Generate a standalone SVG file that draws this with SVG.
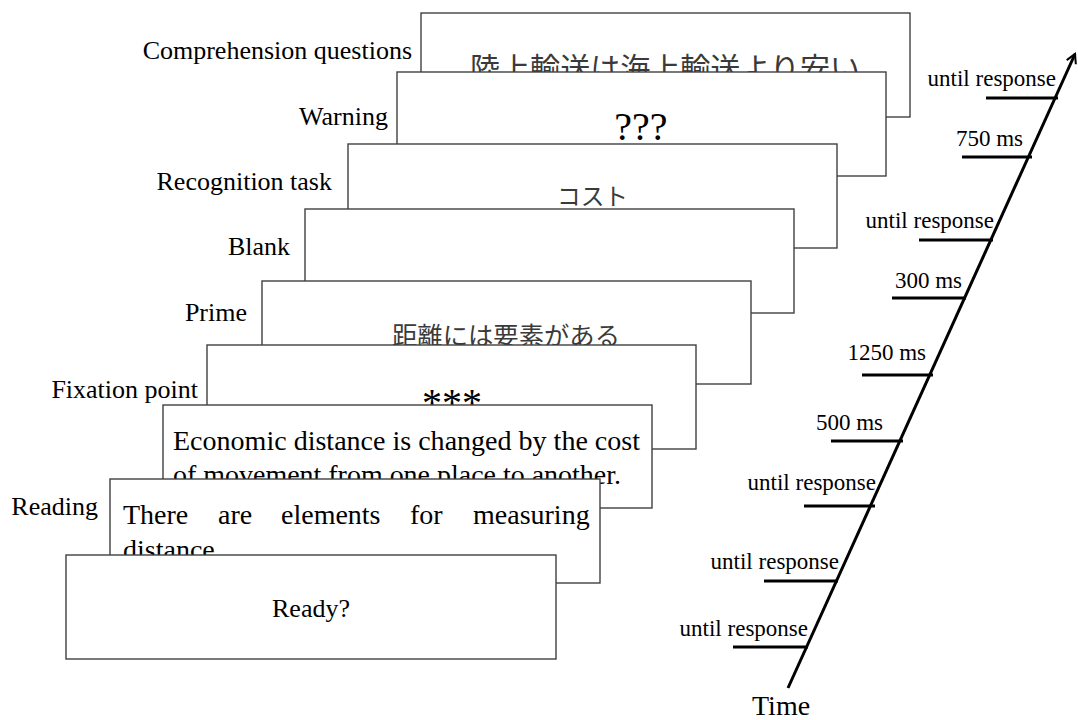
<svg xmlns="http://www.w3.org/2000/svg" width="1078" height="720" viewBox="0 0 1078 720">
<defs>
<style>
.box{fill:#fff;stroke:#404040;stroke-width:1.4}
.lbl{font-family:"Liberation Serif","Times New Roman",serif;font-size:26px;fill:#000;text-anchor:end}
.body{font-family:"Liberation Serif","Times New Roman",serif;font-size:28px;fill:#000}
.jp{font-family:"Noto Sans CJK JP","Liberation Serif",sans-serif;font-weight:normal;fill:#3a3a3a}
.tl{font-family:"Liberation Serif","Times New Roman",serif;font-size:23px;fill:#000;text-anchor:end}
.tick{stroke:#000;stroke-width:3.2;fill:none}
</style>
<marker id="arr" viewBox="0 0 12 12" refX="10" refY="6" markerWidth="12" markerHeight="12" markerUnits="userSpaceOnUse" orient="auto">
<polyline points="1,1 10,6 1,11" fill="none" stroke="#000" stroke-width="2"/>
</marker>
</defs>
<rect width="1078" height="720" fill="#fff"/>

<g id="comprehension">
<text class="lbl" x="412" y="59">Comprehension questions</text>
<rect class="box" x="421" y="13" width="489" height="104" style="stroke:#222;stroke-width:1.2"/>
<text class="jp" x="470" y="79" font-size="30" textLength="390" lengthAdjust="spacingAndGlyphs">陸上輸送は海上輸送より安い</text>
</g>

<g id="warning">
<text class="lbl" x="388" y="125">Warning</text>
<rect class="box" x="397" y="72" width="489" height="104"/>
<text x="641" y="140" font-family="Liberation Serif, serif" font-size="40" text-anchor="middle">???</text>
</g>

<g id="recognition">
<text class="lbl" x="332" y="190">Recognition task</text>
<rect class="box" x="348" y="144" width="489" height="104"/>
<text class="jp" x="557" y="205" font-size="24" textLength="71" lengthAdjust="spacingAndGlyphs">コスト</text>
</g>

<g id="blank">
<text class="lbl" x="290" y="255">Blank</text>
<rect class="box" x="305" y="209" width="489" height="104"/>
</g>

<g id="prime">
<text class="lbl" x="247" y="321">Prime</text>
<rect class="box" x="262" y="281" width="489" height="103"/>
<text class="jp" x="392" y="345" font-size="25" textLength="228" lengthAdjust="spacingAndGlyphs">距離には要素がある</text>
</g>

<g id="fixation">
<text class="lbl" x="198" y="398">Fixation point</text>
<rect class="box" x="207" y="345" width="489" height="104"/>
<text x="452" y="416" font-family="Liberation Serif, serif" font-size="40" text-anchor="middle">***</text>
</g>

<g id="sentence2">
<rect class="box" x="163" y="405" width="489" height="103"/>
<text class="body" x="173" y="450" textLength="467" lengthAdjust="spacingAndGlyphs">Economic distance is changed by the cost</text>
<text class="body" x="173" y="484" textLength="448" lengthAdjust="spacingAndGlyphs">of movement from one place to another.</text>
</g>

<g id="reading">
<text class="lbl" x="98" y="515">Reading</text>
<rect class="box" x="110" y="479" width="490" height="104"/>
<text class="body" y="524"><tspan x="123">There</tspan><tspan x="218">are</tspan><tspan x="281">elements</tspan><tspan x="410">for</tspan><tspan x="473">measuring</tspan></text>
<text class="body" x="123" y="559">distance.</text>
</g>

<g id="ready">
<rect class="box" x="66" y="555" width="490" height="104"/>
<text x="311" y="617" font-family="Liberation Serif, serif" font-size="26" text-anchor="middle">Ready?</text>
</g>

<g id="connectors">
<line x1="788" y1="688" x2="1075" y2="54" stroke="#000" stroke-width="3" marker-end="url(#arr)"/>
<line class="tick" x1="986" y1="98" x2="1058" y2="98"/>
<line class="tick" x1="962" y1="157" x2="1032" y2="157"/>
<line class="tick" x1="919" y1="240" x2="993" y2="240"/>
<line class="tick" x1="892" y1="298" x2="966" y2="298"/>
<line class="tick" x1="862" y1="375" x2="933" y2="375"/>
<line class="tick" x1="831" y1="441" x2="903" y2="441"/>
<line class="tick" x1="804" y1="506" x2="875" y2="506"/>
<line class="tick" x1="764" y1="581" x2="838" y2="581"/>
<line class="tick" x1="733" y1="647" x2="808" y2="647"/>
</g>

<g id="timeline-labels">
<text class="tl" x="1056" y="86">until response</text>
<text class="tl" x="1023" y="146">750 ms</text>
<text class="tl" x="994" y="228">until response</text>
<text class="tl" x="962" y="288">300 ms</text>
<text class="tl" x="926" y="360">1250 ms</text>
<text class="tl" x="883" y="430">500 ms</text>
<text class="tl" x="876" y="490">until response</text>
<text class="tl" x="839" y="569">until response</text>
<text class="tl" x="808" y="636">until response</text>
<text x="752" y="715" font-family="Liberation Serif, serif" font-size="28">Time</text>
</g>
</svg>
